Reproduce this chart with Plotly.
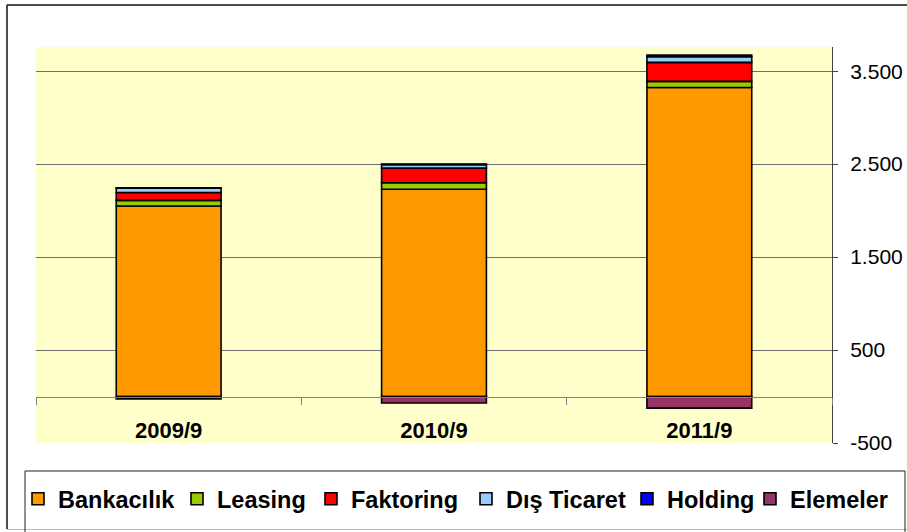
import plotly.graph_objects as go

categories = ["2009/9", "2010/9", "2011/9"]
series_names = ["Bankacılık", "Leasing", "Faktoring", "Dış Ticaret", "Holding", "Elemeler"]
bankacilik = [2050, 2230, 3325]
leasing = [60, 70, 65]
faktoring = [85, 157, 205]
dis_ticaret = [45, 38, 60]
holding = [5, 5, 18]
elemeler = [-25, -70, -125]
colors = ["#FF9900", "#99CC00", "#FF0000", "#99CCFF", "#0000FF", "#993366"]
y_tickvals = [-500, 500, 1500, 2500, 3500]
y_ticktext = ["-500", "500", "1.500", "2.500", "3.500"]

W, H = 907, 532
ML, MR, MT, MB = 36, 75, 47, 89
YMIN, YMAX = -500, 3760
# left pixel where each legend entry's text starts (reference layout)
legend_text_x = [58, 217, 351, 506, 667, 790]

def px_x(px):
    return (px - ML) / (W - ML - MR)

def px_y(py):
    return (H - MB - py) / (H - MT - MB)

legend_font = dict(size=23.5, family="Liberation Sans, Arial, sans-serif", weight="bold")

fig = go.Figure()
legend_layouts = {}
for i, (name, vals, col) in enumerate(zip(series_names,
                                          [bankacilik, leasing, faktoring, dis_ticaret, holding, elemeler],
                                          colors)):
    lname = "legend" if i == 0 else f"legend{i + 1}"
    fig.add_trace(go.Bar(
        x=categories, y=vals, name=name, width=0.395, legend=lname,
        marker=dict(color=col, line=dict(color="#000000", width=1.6)),
    ))
    legend_layouts[lname] = dict(
        orientation="h",
        xref="container", yref="container",
        x=(legend_text_x[i] - 40) / W, xanchor="left",
        y=1 - 499 / H, yanchor="middle",
        font=legend_font,
        bgcolor="rgba(0,0,0,0)",
        borderwidth=0,
        itemclick=False, itemdoubleclick=False,
    )

zero_pos = (0 - YMIN) / (YMAX - YMIN)

fig.update_layout(
    width=W, height=H,
    margin=dict(l=ML, r=MR, t=MT, b=MB, autoexpand=False),
    barmode="relative",
    paper_bgcolor="#FFFFFF",
    plot_bgcolor="#FFFFCC",
    separators=",.",
    font=dict(family="Liberation Sans, Arial, sans-serif", color="#000000"),
    showlegend=True,
    xaxis=dict(
        type="category",
        range=[-0.5, 2.5],
        anchor="free",
        position=zero_pos,
        showline=True, linecolor="#808080", linewidth=1,
        ticks="outside", tickson="boundaries", ticklen=7, tickcolor="#808080",
        showgrid=False,
        tickfont=dict(size=22, family="Liberation Sans, Arial, sans-serif", weight="bold"),
        ticklabelstandoff=14,
    ),
    yaxis=dict(
        range=[YMIN, YMAX],
        side="right",
        showline=True, linecolor="#404040", linewidth=1,
        ticks="outside", ticklen=5, tickcolor="#404040",
        tickvals=y_tickvals, ticktext=y_ticktext,
        showgrid=True, gridcolor="#6E6E6E", gridwidth=1,
        zeroline=False,
        tickfont=dict(size=21),
        ticklabelstandoff=8,
    ),
    shapes=[
        # outer chart border
        dict(type="line", xref="paper", yref="paper",
             x0=px_x(7), x1=px_x(912), y0=px_y(5), y1=px_y(5),
             line=dict(color="#111111", width=1.5)),
        dict(type="line", xref="paper", yref="paper",
             x0=px_x(7), x1=px_x(7), y0=px_y(5), y1=px_y(529),
             line=dict(color="#111111", width=1.5)),
        dict(type="line", xref="paper", yref="paper",
             x0=px_x(7), x1=px_x(912), y0=px_y(529.5), y1=px_y(529.5),
             line=dict(color="#BBBBBB", width=1)),
        # legend box
        dict(type="rect", xref="paper", yref="paper",
             x0=px_x(25), x1=px_x(905), y0=px_y(471), y1=px_y(545),
             line=dict(color="#222222", width=1)),
    ],
)
fig.update_layout(**legend_layouts)

fig.write_html("out.html",
               config={"displayModeBar": False},
               post_script="document.body.style.margin='0';document.body.style.overflow='hidden';")
